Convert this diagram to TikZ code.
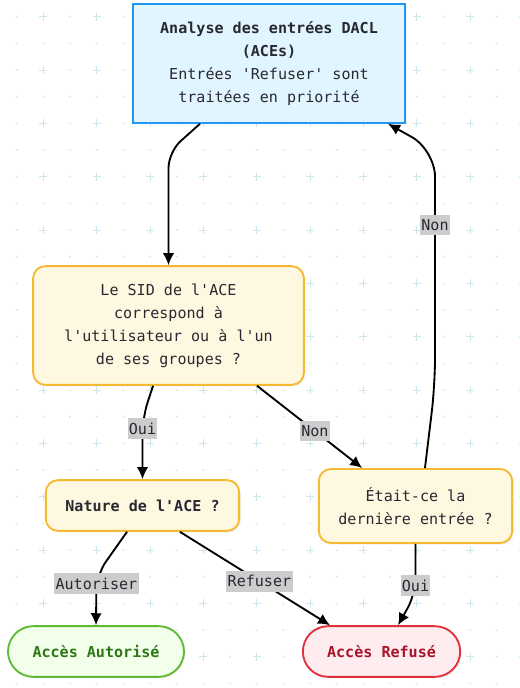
\documentclass[tikz,border=0pt]{standalone}
\usepackage{fontspec}
\setmonofont{DejaVu Sans Mono}
\usetikzlibrary{arrows.meta,shadows}
\definecolor{bluedraw}{RGB}{33,150,243}
\definecolor{bluefill}{RGB}{225,245,254}
\definecolor{yellowdraw}{RGB}{245,185,50}
\definecolor{yellowfill}{RGB}{255,248,225}
\definecolor{greendraw}{RGB}{95,185,50}
\definecolor{greenfill}{RGB}{241,255,235}
\definecolor{greentext}{RGB}{45,120,20}
\definecolor{reddraw}{RGB}{225,50,60}
\definecolor{redfill}{RGB}{255,236,238}
\definecolor{redtext}{RGB}{165,20,40}
\definecolor{labgray}{RGB}{204,204,204}
\definecolor{inktext}{RGB}{40,40,50}
\definecolor{griddot}{RGB}{222,226,230}
\definecolor{gridplus}{RGB}{205,230,236}

\begin{document}
\begin{tikzpicture}[x=0.75pt,y=-0.75pt, >={Latex[length=9pt,width=8.5pt]},
    box/.style={line width=1.4pt, align=center, text=inktext,
        font=\ttfamily\fontsize{11.3}{17.25}\selectfont,
        drop shadow={opacity=0.12,shadow xshift=1.2pt,shadow yshift=-1.2pt}},
    snode/.style={box, draw=bluedraw, fill=bluefill},
    qnode/.style={box, draw=yellowdraw, fill=yellowfill, rounded corners=9pt},
    okend/.style={box, draw=greendraw, fill=greenfill, text=greentext, rounded corners=19pt, minimum height=38pt},
    koend/.style={box, draw=reddraw, fill=redfill, text=redtext, rounded corners=19pt, minimum height=38pt},
    lab/.style={fill=labgray, text=inktext, sharp corners, inner xsep=1pt, inner ysep=3.5pt,
        font=\ttfamily\fontsize{11.3}{12}\selectfont}]

    \useasboundingbox (0,0) rectangle (520,688);

    % background pattern
    \foreach \i in {0,...,19} {
      \foreach \j in {0,...,25} {
        \pgfmathtruncatemacro{\isplus}{and(isodd(\i),iseven(\j))}
        \ifnum\isplus=1
          \draw[gridplus, line width=0.6pt] (16.7+26.67*\i-4,16.7+26.67*\j) -- ++(8,0)
                (16.7+26.67*\i,16.7+26.67*\j-4) -- ++(0,8);
        \else
          \fill[griddot] (16.7+26.67*\i,16.7+26.67*\j) circle (0.8pt);
        \fi
      }
    }

    \node[snode, minimum width=204pt, minimum height=89pt] (scan) at (269,63.5)
        {\textbf{Analyse des entrées DACL}\\\textbf{(ACEs)}\\Entrées 'Refuser' sont\\ traitées en priorité};
    \node[qnode, minimum width=203pt, minimum height=89pt] (match) at (168.5,325.5)
        {Le SID de l'ACE\\correspond à\\l'utilisateur ou à l'un\\de ses groupes ?};
    \node[qnode, minimum width=145pt, minimum height=38pt] (kind) at (142.5,505.5)
        {\textbf{Nature de l'ACE ?}};
    \node[qnode, minimum width=145pt, minimum height=55.5pt] (last) at (415.5,506)
        {Était-ce la\\dernière entrée ?};
    \node[okend, minimum width=132pt] (allow) at (96,651.5) {\textbf{Accès Autorisé}};
    \node[koend, minimum width=118pt] (deny) at (381.5,651.5) {\textbf{Accès Refusé}};

   \begin{scope}[line width=1.4pt, rounded corners=12pt]
    \draw[->] ([xshift=-51.75pt]scan.south) -- (168.5,152) -- (match.north);
    \draw[->] ([xshift=-11.6pt]match.south) -- (142.5,418) -- node[lab, pos=0.17] {Oui} (kind.north);
    \draw[->] ([xshift=66.4pt]match.south) -- node[lab, pos=0.55] {Non} ([xshift=-40pt]last.north);
    \draw[->] ([xshift=-11.6pt]kind.south) -- (96.5,575) -- node[lab, pos=0.17] {Autoriser} (allow.north);
    \draw[->] ([xshift=28pt]kind.south) -- node[lab, pos=0.53] {Refuser} ([xshift=-38.6pt]deny.north);
    \draw[->] (last.south) -- node[lab, pos=0.84] {Oui} (415.5,594) -- ([xshift=12.4pt]deny.north);
    \draw[->, rounded corners=20pt] ([xshift=7.1pt]last.north) -- (435,385) -- node[lab, pos=0.68] {Non} (435,150) -- ([xshift=89.25pt]scan.south);
   \end{scope}

\end{tikzpicture}
\end{document}
